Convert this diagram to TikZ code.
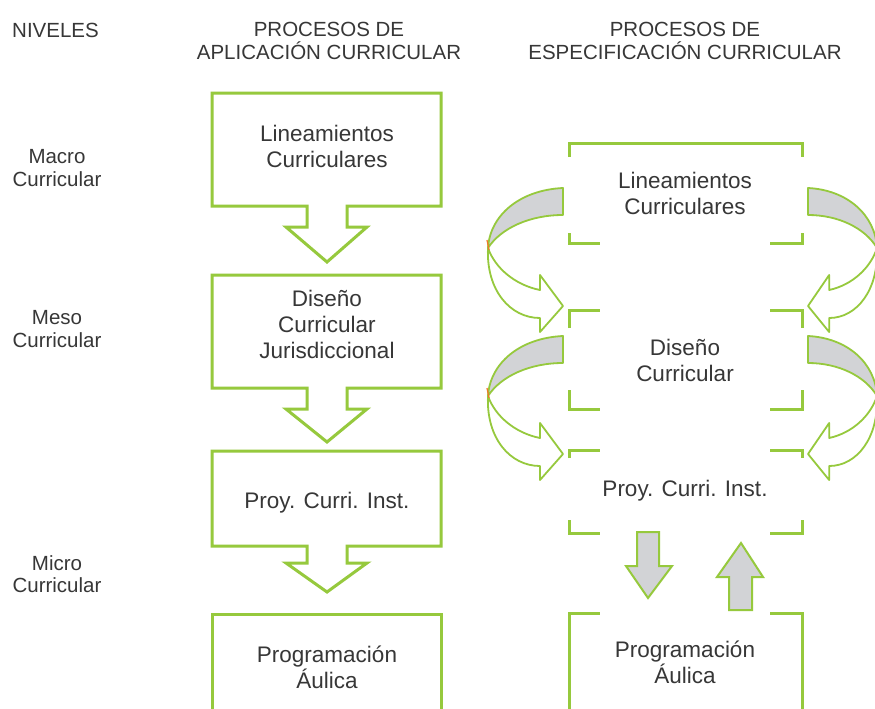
\documentclass[tikz,border=0pt]{standalone}
\usepackage{fontspec}
\setmainfont{Liberation Sans}
\definecolor{leaf}{RGB}{150,201,61}
\definecolor{ribbon}{RGB}{210,211,214}
\definecolor{ink}{RGB}{55,55,55}
\definecolor{twist}{RGB}{240,120,40}
\tikzset{
  twistarrow/.pic={
    \draw[leaf, line width=1.8pt, fill=white, line join=round] (-75,60) .. controls (-77,102) and (-53,130) .. (-23,130) -- (-23,144) -- (0,118) -- (-23,87) -- (-23,102) .. controls (-48,97) and (-68,80) .. (-75,60) -- cycle;
    \draw[leaf, line width=1.8pt, fill=ribbon, line join=round] (0,0) .. controls (-43,2) and (-73,27) .. (-75,60) .. controls (-62,40) and (-33,27) .. (0,27) -- cycle;
    \draw[twist, line width=1.2pt] (-76,52) -- (-74,62);
  }
}
\begin{document}
\begin{tikzpicture}
[x=1pt, y=-1pt,
 boxline/.style={draw=leaf, line width=3pt, line join=miter},
 bracket/.style={draw=leaf, line width=3pt},
 fatarrow/.style={draw=leaf, fill=ribbon, line width=2pt, line join=miter},
 txt/.style={text=ink, align=center, inner sep=0pt, font=\fontsize{22.5}{26}\selectfont},
 hdr/.style={text=ink, align=center, inner sep=0pt, font=\fontsize{20.5}{22.5}\selectfont}]
\useasboundingbox (0,0) rectangle (875,709);
\clip (0,0) rectangle (875,709);
\fill[white] (0,0) rectangle (875,709);
% encabezados
\node[hdr, anchor=west] (niv) at (12,30) {NIVELES};
\node[hdr] (hapl) at (329,41) {PROCESOS DE\\APLICACIÓN CURRICULAR};
\node[hdr] (hesp) at (685,41) {PROCESOS DE\\ESPECIFICACIÓN CURRICULAR};
\node[hdr] (macro) at (57,168) {Macro\\Curricular};
\node[hdr] (meso) at (57,329) {Meso\\Curricular};
\node[hdr] (micro) at (57,574) {Micro\\Curricular};
% aplicacion
\draw[boxline] (212,93) -- (441,93) -- (441,206) -- (347,206) -- (347,227) -- (367,227) -- (327,262) -- (286,227) -- (307,227) -- (307,206) -- (212,206) -- cycle;
\draw[boxline] (212,275) -- (441,275) -- (441,388) -- (347,388) -- (347,409) -- (367,409) -- (327,442) -- (286,409) -- (307,409) -- (307,388) -- (212,388) -- cycle;
\draw[boxline] (212,451) -- (441,451) -- (441,546) -- (347,546) -- (347,563) -- (367,563) -- (327,592) -- (286,563) -- (307,563) -- (307,546) -- (212,546) -- cycle;
\draw[boxline] (212,712) -- (212,614) -- (441,614) -- (441,712);
\node[txt] (alin) at (327,146) {Lineamientos\\Curriculares};
\node[txt] (adis) at (327,324) {Diseño\\Curricular\\Jurisdiccional};
\node[txt] (apro) at (327,503) {Proy. Curri. Inst.};
\node[txt] (aaul) at (327,667) {Programación\\Áulica};
% especificacion
\draw[bracket] (569,157) -- (569,143) -- (802,143) -- (802,157);
\draw[bracket] (569,233) -- (569,243) -- (600,243) (770,243) -- (802,243) -- (802,233);
\draw[bracket] (569,328) -- (569,310) -- (600,310) (770,310) -- (802,310) -- (802,328);
\draw[bracket] (569,390) -- (569,409) -- (600,409) (770,409) -- (802,409) -- (802,390);
\draw[bracket] (569,458) -- (569,450) -- (600,450) (770,450) -- (802,450) -- (802,458);
\draw[bracket] (569,520) -- (569,533) -- (600,533) (770,533) -- (802,533) -- (802,520);
\draw[bracket] (569,712) -- (569,613) -- (600,613) (770,613) -- (802,613) -- (802,712);
\node[txt] (elin) at (685,193) {Lineamientos\\Curriculares};
\node[txt] (edis) at (685,360) {Diseño\\Curricular};
\node[txt] (epro) at (685,491) {Proy. Curri. Inst.};
\node[txt] (eaul) at (685,662) {Programación\\Áulica};
\pic at (563,188) {twistarrow};
\pic at (563,336) {twistarrow};
\pic[xscale=-0.92] at (808,188) {twistarrow};
\pic[xscale=-0.92] at (808,336) {twistarrow};
\draw[fatarrow] (637,532) -- (659,532) -- (659,566) -- (672,566) -- (648,598) -- (626,566) -- (637,566) -- cycle;
\draw[fatarrow] (729,610) -- (752,610) -- (752,577) -- (763,577) -- (741,543) -- (717,577) -- (729,577) -- cycle;
\end{tikzpicture}
\end{document}
